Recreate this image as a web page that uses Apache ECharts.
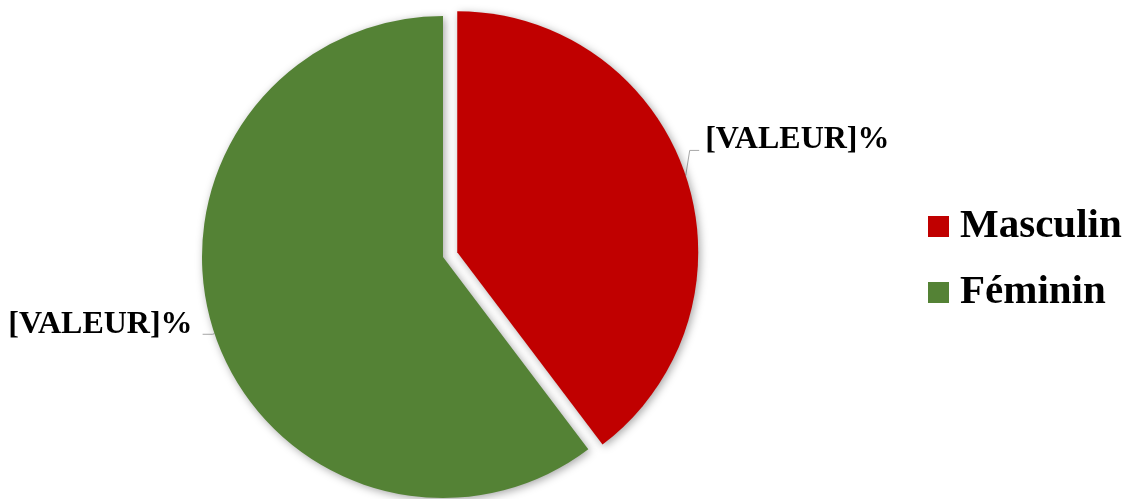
<!DOCTYPE html>
<html>
<head>
<meta charset="utf-8">
<script src="https://cdn.jsdelivr.net/npm/echarts@6/dist/echarts.min.js"></script>
<style>
html,body{margin:0;padding:0;background:#fff;}
#chart{width:1133px;height:499px;}
</style>
</head>
<body>
<div id="chart"></div>
<script>
const categories = ['Masculin', 'Féminin'];
const values = [39.7, 60.3];
const colors = ['#C00000', '#548235'];
const labelText = '[VALEUR]%';

const chart = echarts.init(document.getElementById('chart'), null, {renderer: 'canvas'});

const fontFamily = '"Liberation Serif", "Times New Roman", serif';

function richFor(spacer) {
  return {
    a: {fontFamily: fontFamily, fontWeight: 'bold', fontSize: 32, lineHeight: 36, color: '#000'},
    b: {fontSize: 1, lineHeight: spacer}
  };
}

const data = categories.map((name, i) => {
  const item = {
    name: name,
    value: values[i],
    itemStyle: {color: colors[i]}
  };
  if (i === 0) {
    item.selected = true;
    item.label = {rich: richFor(66), distanceToLabelLine: 5};
    item.labelLine = {length: 10, length2: 5};
  } else {
    item.label = {rich: richFor(20), distanceToLabelLine: 10};
    item.labelLine = {length: 2, length2: 10};
  }
  return item;
});

chart.setOption({
  animation: false,
  backgroundColor: '#ffffff',
  legend: {
    orient: 'vertical',
    left: 923,
    top: 201,
    icon: 'rect',
    itemWidth: 21,
    itemHeight: 21,
    itemGap: 25,
    data: categories,
    textStyle: {
      fontFamily: fontFamily,
      fontWeight: 'bold',
      fontSize: 41,
      lineHeight: 40,
      color: '#000',
      padding: [0, 0, 0, 6]
    }
  },
  series: [{
    type: 'pie',
    center: [443, 257],
    radius: 241,
    startAngle: 90,
    clockwise: true,
    selectedMode: 'single',
    selectedOffset: 15,
    avoidLabelOverlap: false,
    itemStyle: {
      shadowBlur: 8,
      shadowColor: 'rgba(0,0,0,0.35)',
      shadowOffsetX: 2,
      shadowOffsetY: 2
    },
    label: {
      show: true,
      position: 'outside',
      formatter: '{a|' + labelText + '}\n{b|}'
    },
    labelLine: {
      show: true,
      lineStyle: {color: '#A6A6A6', width: 1}
    },
    labelLayout: function (p) {
      if (p.dataIndex !== 0 || !p.labelLinePoints) return {};
      const start = p.labelLinePoints[0];
      const lineY = p.labelRect.y + 18 + 9;
      return {
        labelLinePoints: [
          [start[0], start[1]],
          [start[0] + 4, lineY],
          [p.labelRect.x - 6, lineY]
        ]
      };
    },
    emphasis: {disabled: true},
    data: data
  }]
});
</script>
</body>
</html>
